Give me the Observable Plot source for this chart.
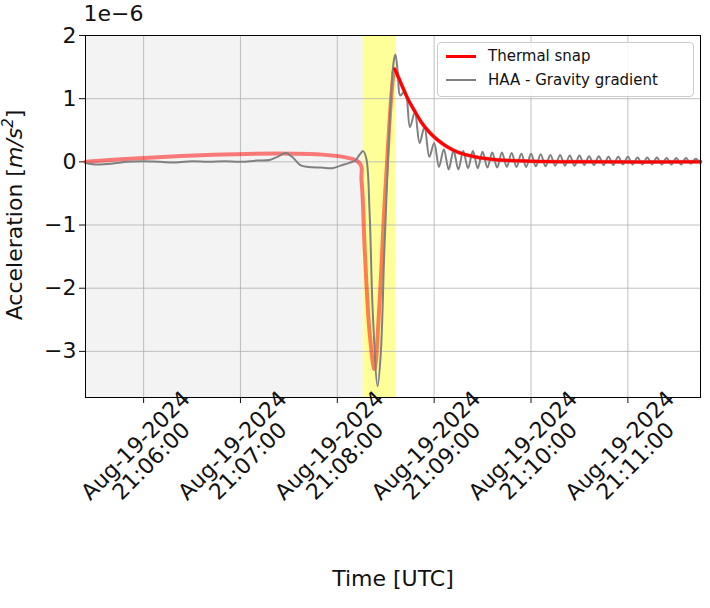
<!DOCTYPE html>
<html><head><meta charset="utf-8">
<script src="https://cdn.jsdelivr.net/npm/d3@7"></script>
<script src="https://cdn.jsdelivr.net/npm/@observablehq/plot@0.6"></script>
<style>
body{margin:0;background:#fff;font-family:"DejaVu Sans",sans-serif;}
#wrap{position:relative;width:710px;height:608px;}
#legend{position:absolute;left:437px;top:42px;width:255px;height:53px;border:1px solid #ccc;border-radius:4px;background:rgba(255,255,255,0.85);font-size:15px;color:#111;}
.row{position:absolute;left:8px;display:flex;align-items:center;}
.sw{width:30px;height:0;margin-right:12px;}
</style></head><body>
<div id="wrap"><div id="chart"></div>
<div id="legend">
<div class="row" style="top:4px"><div class="sw" style="border-top:3px solid red"></div>Thermal snap</div>
<div class="row" style="top:28px"><div class="sw" style="border-top:2px solid #808080"></div>HAA - Gravity gradient</div>
</div></div>
<script>
// time in seconds after 21:05:00 UTC, Aug-19-2024; acceleration in 1e-6 m/s^2
const thermalT = [24,193,195,197,200,203,206,209,212,214,215.5,218,221,224,228,232,237,242,248,255,265,280,300,340,405];
const thermalV = [0,0,-0.3,-1.4,-2.7,-3.28,-2.3,-0.8,0.5,1.2,1.47,1.33,1.15,0.98,0.8,0.63,0.47,0.35,0.24,0.15,0.08,0.03,0.01,0,0];
const haaT = [24,30,40,50,60,70,80,90,100,110,120,130,138,143,148,152,157,162,170,177,182,187,191,194,196,198,200,202,205,207,209,211,213,215,216,217.5,219,222,225,228,231,234,237,240,243,246,249,252,255,258,261,264,267,270,273,276,279,282,285,288,291,294,297,300,303,306,309,312,315,318,321,324,327,330,333,336,339,342,345,348,351,354,357,360,363,366,369,372,375,378,381,384,387,390,393,396,399,402,405];
const haaV = [-0.02,-0.04,-0.03,0,0.01,0,-0.01,0.01,0,0.01,0,0.02,0.03,0.08,0.14,0.08,-0.05,-0.08,-0.09,-0.1,-0.06,-0.02,0.02,0.12,0.17,0.05,-0.8,-2.4,-3.55,-3.0,-1.5,-0.2,0.9,1.6,1.7,1.4,1.05,1.12,0.55,0.78,0.3,0.55,0.08,0.3,-0.08,0.2,-0.12,0.18,-0.12,0.17,-0.1,0.17,-0.1,0.16,-0.09,0.15,-0.09,0.15,-0.08,0.14,-0.08,0.13,-0.08,0.13,-0.07,0.12,-0.07,0.11,-0.06,0.11,-0.06,0.1,-0.06,0.1,-0.05,0.09,-0.05,0.09,-0.05,0.08,-0.05,0.08,-0.04,0.08,-0.04,0.07,-0.04,0.07,-0.04,0.07,-0.04,0.06,-0.04,0.06,-0.04,0.06,-0.03,0.05,-0.03];
const xTicks = [60,120,180,240,300,360];
const yTicks = [-3,-2,-1,0,1,2];
const regions = [{x1:24,x2:196,fill:"#f3f3f3"},{x1:196,x2:216.5,fill:"#ffff99"}];

const thermal = thermalT.map((t,i)=>({t,v:thermalV[i]}));
const haa = haaT.map((t,i)=>({t,v:haaV[i]}));
const fmt = s => { const m = 5+Math.floor(s/60); return `Aug-19-2024\n21:${String(m).padStart(2,"0")}:00`; };

const plot = Plot.plot({
  width:710, height:608, marginLeft:85, marginRight:10, marginTop:35, marginBottom:211,
  style:{fontFamily:"DejaVu Sans", fontSize:"22px", color:"#111"},
  x:{type:"linear", domain:[24,405]},
  y:{type:"linear", domain:[-3.73,2.0]},
  marks:[
    Plot.rect(regions,{x1:"x1",x2:"x2",fill:"fill"}),
    Plot.gridX(xTicks,{stroke:"#b0b0b0",strokeOpacity:0.8}),
    Plot.gridY(yTicks,{stroke:"#b0b0b0",strokeOpacity:0.8}),
    Plot.axisX(xTicks,{tickFormat:()=>"",tickSize:6,label:null}),
    Plot.axisY(yTicks,{tickSize:6,label:null,fontSize:22,tickFormat:d=>d3.format("d")(d).replace("-","−")}),
    Plot.line(thermal,{x:"t",y:"v",stroke:"red",strokeOpacity:0.5,strokeWidth:4,curve:"catmull-rom"}),
    Plot.line(haa,{x:"t",y:"v",stroke:"#808080",strokeWidth:2,curve:"catmull-rom"}),
    Plot.line(thermal.filter(d=>d.t>=215.5),{x:"t",y:"v",stroke:"red",strokeWidth:3,curve:"catmull-rom"}),
    Plot.text(xTicks,{x:d=>d,frameAnchor:"bottom",dy:56,text:fmt,rotate:-45,textAnchor:"middle",lineAnchor:"middle",fontSize:22,fill:"#111"}),
    Plot.text(["1e−6"],{frameAnchor:"top-left",dy:-30,dx:-2,textAnchor:"start",lineAnchor:"top",fontSize:22,fill:"#111"}),
    Plot.text(["Time [UTC]"],{frameAnchor:"bottom",dy:188,fontSize:22,fill:"#111"}),
    Plot.frame({stroke:"black"})
  ]
});
const svg = d3.select(plot);
const lab = svg.append("text").attr("transform","translate(22,215) rotate(-90)").attr("text-anchor","middle")
  .attr("font-size",22).attr("fill","#111").attr("font-family","DejaVu Sans");
lab.append("tspan").text("Acceleration [");
lab.append("tspan").attr("font-style","italic").text("m/s");
lab.append("tspan").attr("font-style","italic").attr("font-size",15).attr("dy",-9).text("2");
lab.append("tspan").attr("dy",9).text("]");
document.getElementById("chart").appendChild(plot);
</script></body></html>
